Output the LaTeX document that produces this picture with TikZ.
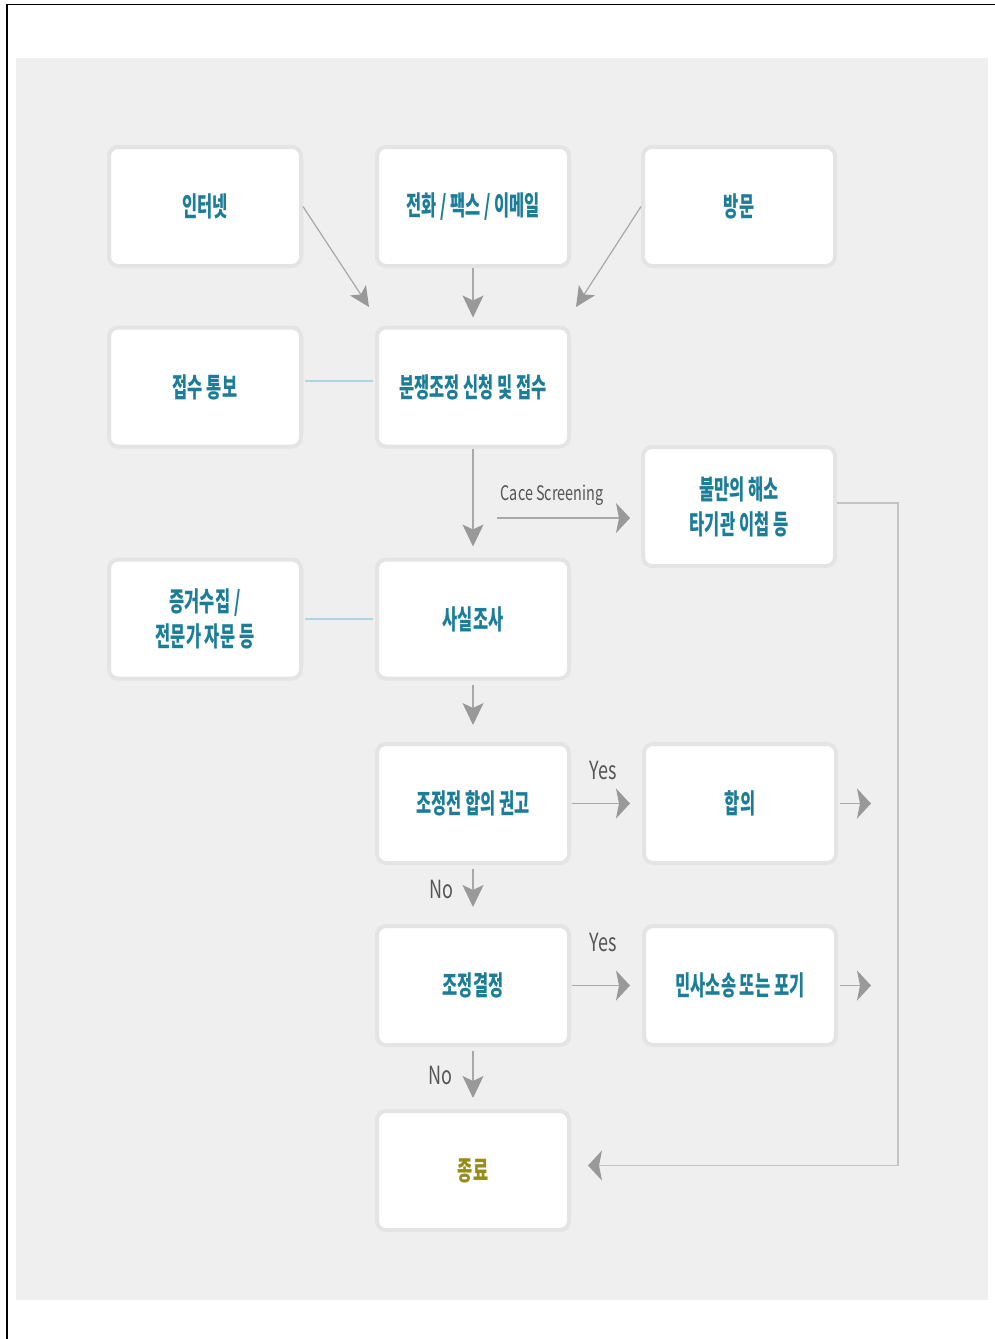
\documentclass[tikz,border=0pt]{standalone}
\usepackage{fontspec}
\usetikzlibrary{arrows.meta}
\newfontfamily\krfont[FakeStretch=0.61]{Noto Sans CJK KR}
\newfontfamily\lblfont[FakeStretch=0.72]{Noto Sans CJK KR}
\definecolor{bgfill}{HTML}{EFEFEF}
\definecolor{boxring}{HTML}{E4E4E4}
\definecolor{tealtext}{RGB}{27,125,152}
\definecolor{olivetext}{RGB}{150,140,22}
\definecolor{arrgray}{HTML}{A8A8A8}
\definecolor{tipgray}{HTML}{999999}
\definecolor{linkblue}{HTML}{A8D6E2}
\definecolor{loopgray}{HTML}{C4C4C4}
\definecolor{lblgray}{HTML}{555555}
\tikzset{
  box/.style={draw=boxring, line width=4pt, fill=white, rounded corners=9pt,
    minimum width=192pt, minimum height=119pt, inner sep=0pt, align=center,
    text=tealtext, font=\krfont\bfseries\fontsize{27}{35}\selectfont},
  varr/.style={draw=arrgray, line width=1.2pt,
    -{Stealth[length=22pt,width=21pt,inset=5pt,color=tipgray]}},
  darr/.style={draw=arrgray, line width=1.2pt,
    -{Stealth[length=20pt,width=19pt,inset=5pt,color=tipgray]}},
  harr/.style={draw=arrgray, line width=1.2pt,
    -{Stealth[length=14pt,width=30pt,inset=3pt,color=tipgray]}},
  retarr/.style={draw=loopgray, line width=1.5pt,
    -{Stealth[length=14pt,width=30pt,inset=3pt,color=tipgray]}},
  link/.style={draw=linkblue, line width=1.5pt, shorten <=2pt, shorten >=2pt},
  lbl/.style={text=lblgray, inner sep=0pt, font=\lblfont\fontsize{25}{30}\selectfont}
}
\begin{document}
\begin{tikzpicture}[x=1pt,y=-1pt]
  \useasboundingbox (0,0) rectangle (994,1339);
  \draw[line width=1.5pt] (7,1345) -- (7,4.5) -- (1000,4.5);
  \fill[bgfill] (16,58) rectangle (988,1300);

  \node[box] (internet) at (205,206.5) {인터넷};
  \node[box] (jeonhwa) at (473,206.5) {전화 / 팩스 / 이메일};
  \node[box] (bangmun) at (739,206.5) {방문};
  \node[box] (jeopsu) at (205,387) {접수 통보};
  \node[box] (bunjaeng) at (473,387) {분쟁조정 신청 및 접수};
  \node[box] (bulman) at (739,506.5) {불만의 해소\\타기관 이첩 등};
  \node[box] (jeunggeo) at (205,619) {증거수집 /\\전문가 자문 등};
  \node[box] (sasil) at (473,619) {사실조사};
  \node[box] (gwongo) at (473,803.5) {조정전 합의 권고};
  \node[box] (hapui) at (740,803.5) {합의};
  \node[box] (gyeoljeong) at (473,985.5) {조정결정};
  \node[box] (minsa) at (740,985.5) {민사소송 또는 포기};
  \node[box, text=olivetext] (jongryo) at (473,1170.5) {종료};

  \coordinate (tipL) at (369,307);
  \coordinate (tipR) at (576,307);
  \coordinate (caceFrom) at (497,518);
  \coordinate (hapuiOut) at (871,803.5);
  \coordinate (minsaOut) at (871,985.5);
  \coordinate (loopX) at (898,0);

  \draw[darr] (internet.east) -- (tipL);
  \draw[darr] (bangmun.west) -- (tipR);
  \draw[varr, shorten >=8pt] (jeonhwa) -- (bunjaeng);
  \draw[link] ([yshift=6pt]jeopsu.east) -- ([yshift=6pt]bunjaeng.west);
  \draw[varr, shorten >=11pt] (bunjaeng) -- (sasil);
  \draw[harr, shorten >=11pt] (caceFrom) -- (caceFrom -| bulman.west);
  \node[lbl, font=\lblfont\fontsize{20}{24}\selectfont] (cace) at (552,495) {Cace Screening};
  \draw[link] (jeunggeo) -- (sasil);
  \draw[varr, shorten <=4pt, shorten >=17pt] (sasil) -- (gwongo);
  \draw[harr, shorten <=1pt, shorten >=12pt] (gwongo) -- (hapui);
  \node[lbl] (yes1) at (603,770) {Yes};
  \draw[harr, shorten <=2pt] (hapui) -- (hapuiOut);
  \draw[varr, shorten <=4pt, shorten >=17pt] (gwongo) -- (gyeoljeong);
  \node[lbl] (no1) at (441,889) {No};
  \draw[harr, shorten <=1pt, shorten >=12pt] (gyeoljeong) -- (minsa);
  \node[lbl] (yes2) at (603,942) {Yes};
  \draw[harr, shorten <=2pt] (minsa) -- (minsaOut);
  \draw[varr, shorten <=4pt, shorten >=11pt] (gyeoljeong) -- (jongryo);
  \node[lbl] (no2) at (440,1075) {No};
  \draw[retarr, shorten >=17pt] ([yshift=3.5pt]bulman.east) -- ([yshift=3.5pt]bulman.east -| loopX) |- ([yshift=5pt]jongryo.east);
\end{tikzpicture}
\end{document}
